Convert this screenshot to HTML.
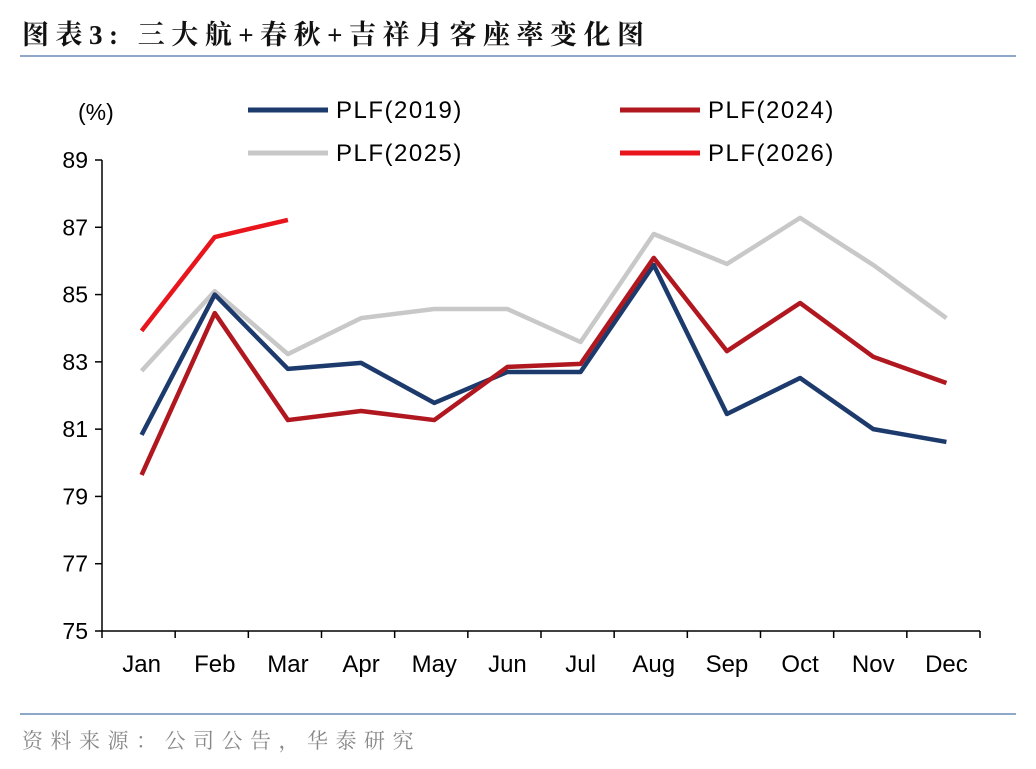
<!DOCTYPE html>
<html><head><meta charset="utf-8"><style>
body{margin:0;background:#fff;width:1036px;height:764px;overflow:hidden;font-family:"Liberation Sans","Noto Sans CJK SC",sans-serif}
</style></head><body>
<svg width="1036" height="764" xmlns="http://www.w3.org/2000/svg" font-family="Liberation Sans, Noto Sans CJK SC, sans-serif">
<text x="22" y="44" font-size="27" font-weight="bold" fill="#111" letter-spacing="6.5" font-family="Liberation Serif, Noto Serif CJK SC, serif">图表3:  三大航+春秋+吉祥月客座率变化图</text>
<line x1="20" y1="56" x2="1016" y2="56" stroke="#8ea9c8" stroke-width="2"/>
<line x1="20" y1="714" x2="1016" y2="714" stroke="#8ea9c8" stroke-width="2"/>
<text x="22" y="748" font-size="21" fill="#888" letter-spacing="7.5" font-family="Noto Serif CJK SC, serif">资料来源：公司公告，华泰研究</text>
<text x="78" y="120" font-size="23" fill="#000">(%)</text>
<g id="axes"></g><g id="series"></g><g id="legend"></g>
</svg>
<script>
const months=["Jan","Feb","Mar","Apr","May","Jun","Jul","Aug","Sep","Oct","Nov","Dec"];
const yTicks=[75,77,79,81,83,85,87,89];
const plf2019=[80.83,85.0,82.79,82.97,81.78,82.7,82.7,85.88,81.45,82.52,81.0,80.62];
const plf2024=[79.64,84.45,81.27,81.54,81.27,82.85,82.94,86.09,83.32,84.75,83.15,82.37];
const plf2025=[82.73,85.1,83.23,84.3,84.57,84.57,83.59,86.8,85.91,87.28,85.88,84.3];
const plf2026=[83.92,86.71,87.22];
const NS="http://www.w3.org/2000/svg";
const x0=102,x1=980,yTop=160,yBot=631;
const step=(x1-x0)/12;
const xs=i=>x0+3+step*(i+0.5);
const ys=v=>yBot-(v-75)/(89-75)*(yBot-yTop);
function mk(t,a,p){const e=document.createElementNS(NS,t);for(const k in a)e.setAttribute(k,a[k]);p.appendChild(e);return e;}
const ax=document.getElementById('axes');
let e=mk('line',{x1:x0,y1:yTop,x2:x0,y2:yBot,stroke:'#000','stroke-width':1.5},ax);


e=mk('line',{x1:x0,y1:yBot,x2:x1,y2:yBot,stroke:'#000','stroke-width':1.5},ax);


yTicks.forEach(v=>{
 mk('line',{x1:x0-7,y1:ys(v),x2:x0,y2:ys(v),stroke:'#000','stroke-width':1.5},ax);
 const t=mk('text',{x:x0-14,y:ys(v)+8,'font-size':23,'text-anchor':'end'},ax);t.textContent=v;
 
 
});
for(let i=0;i<=12;i++)mk('line',{x1:x0+step*i,y1:yBot,x2:x0+step*i,y2:yBot+7,stroke:'#000','stroke-width':1.5},ax);
months.forEach((m,i)=>{const t=mk('text',{x:xs(i),y:672,'font-size':24,'text-anchor':'middle'},ax);t.textContent=m;
 
 });
const sg=document.getElementById('series');
const series=[[plf2025,'#c8c8c8','plf-2025-line'],[plf2019,'#1c3a6c','plf-2019-line'],[plf2024,'#b0171f','plf-2024-line'],[plf2026,'#e8161c','plf-2026-line']];
series.forEach(([d,c,n])=>{
 const p=mk('polyline',{points:d.map((v,i)=>xs(i)+','+ys(v)).join(' '),fill:'none',stroke:c,'stroke-width':4.5,'stroke-linejoin':'round'},sg);
 
 
});
const lg=document.getElementById('legend');
const leg=[['PLF(2019)','#1c3a6c',248,110],['PLF(2024)','#b0171f',620,110],['PLF(2025)','#c8c8c8',248,153],['PLF(2026)','#e8161c',620,153]];
leg.forEach(([l,c,x,y])=>{
 const g=mk('g',{},lg);
 
 
 mk('line',{x1:x,y1:y,x2:x+80,y2:y,stroke:c,'stroke-width':5},g);
 const t=mk('text',{x:x+88,y:y+8,'font-size':24,'letter-spacing':1.5},g);t.textContent=l;
});
</script>
</body></html>
